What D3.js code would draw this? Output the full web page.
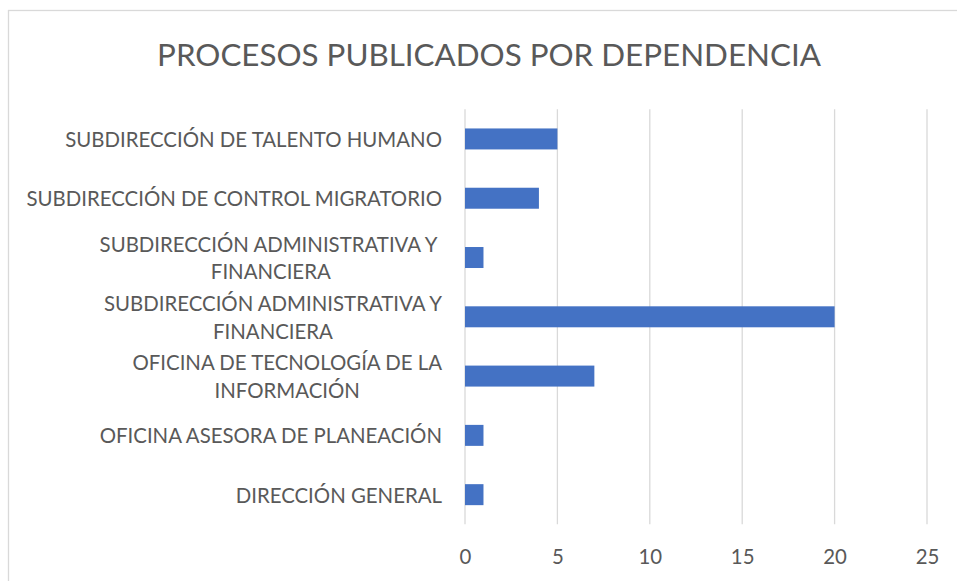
<!DOCTYPE html>
<html><head><meta charset="utf-8">
<script src="https://cdn.jsdelivr.net/npm/d3@7"></script>
<style>html,body{margin:0;padding:0;background:#fff;overflow:hidden}</style>
</head><body>
<svg id="c" width="957" height="581"></svg>
<script>
const title = "PROCESOS PUBLICADOS POR DEPENDENCIA";
const categories = [
  ["DIRECCIÓN GENERAL"],
  ["OFICINA ASESORA DE PLANEACIÓN"],
  ["OFICINA DE TECNOLOGÍA DE LA", "INFORMACIÓN"],
  ["SUBDIRECCIÓN ADMINISTRATIVA Y", "FINANCIERA"],
  ["SUBDIRECCIÓN ADMINISTRATIVA Y\u00a0", "FINANCIERA"],
  ["SUBDIRECCIÓN DE CONTROL MIGRATORIO"],
  ["SUBDIRECCIÓN DE TALENTO HUMANO"]
];
const values = [1, 1, 7, 20, 1, 4, 5];
const xTicks = [0, 5, 10, 15, 20, 25];

const FONT = "Lato, 'Open Sans', sans-serif";
const svg = d3.select("#c");
const m = {top: 109.3, bottom: 524.3};

svg.append("rect").attr("x", 8.5).attr("y", 10.5).attr("width", 970).attr("height", 600)
  .attr("fill", "#fff").attr("stroke", "#d9d9d9").attr("stroke-width", 1.3);

const x = d3.scaleLinear().domain([0, 25]).range([465, 927]);
const idx = categories.map((d, i) => i);
const y = d3.scaleBand().domain(idx.slice().reverse()).range([m.top, m.bottom]).paddingInner(0.646).paddingOuter(0.323);

function measure(text, size) {
  const t = svg.append("text").attr("font-family", FONT).attr("font-size", size)
    .attr("xml:space", "preserve").style("white-space", "pre").text(text);
  const w = t.node().getComputedTextLength();
  t.remove();
  return w;
}
const labelSize = 20 * 377 / measure("SUBDIRECCIÓN DE TALENTO HUMANO", 20);
const titleSize = 20 * 664 / measure(title, 20);

svg.append("text").attr("x", 489).attr("y", 54).attr("text-anchor", "middle")
  .attr("dominant-baseline", "central").attr("font-family", FONT).attr("font-size", titleSize)
  .attr("fill", "#595959").text(title);

const g = svg.append("g");
g.selectAll("line.grid").data(xTicks).join("line")
  .attr("x1", d => x(d)).attr("x2", d => x(d)).attr("y1", m.top).attr("y2", m.bottom)
  .attr("stroke", "#d9d9d9").attr("stroke-width", 1.3);

g.selectAll("rect.bar").data(values).join("rect")
  .attr("x", x(0)).attr("y", (d, i) => y(i)).attr("width", d => x(d) - x(0))
  .attr("height", y.bandwidth()).attr("fill", "#4472c4");

const xAxis = d3.axisBottom(x).tickValues(xTicks).tickSize(0).tickPadding(0);
const xa = svg.append("g").attr("transform", "translate(0,556)").call(xAxis);
xa.select(".domain").remove();
xa.selectAll("text").attr("font-family", FONT).attr("font-size", labelSize).attr("fill", "#595959")
  .attr("dy", null).attr("dominant-baseline", "central");

const lh = 27.5;
categories.forEach((lines, i) => {
  const cy = y(i) + y.bandwidth() / 2;
  const maxW = d3.max(lines, l => measure(l, labelSize));
  const cx = 442 - maxW / 2;
  lines.forEach((l, j) => {
    svg.append("text").attr("x", cx).attr("y", cy + (j - (lines.length - 1) / 2) * lh)
      .attr("text-anchor", "middle").attr("dominant-baseline", "central")
      .attr("font-family", FONT).attr("font-size", labelSize).attr("fill", "#595959")
      .attr("xml:space", "preserve").style("white-space", "pre").text(l);
  });
});
</script>
</body></html>
